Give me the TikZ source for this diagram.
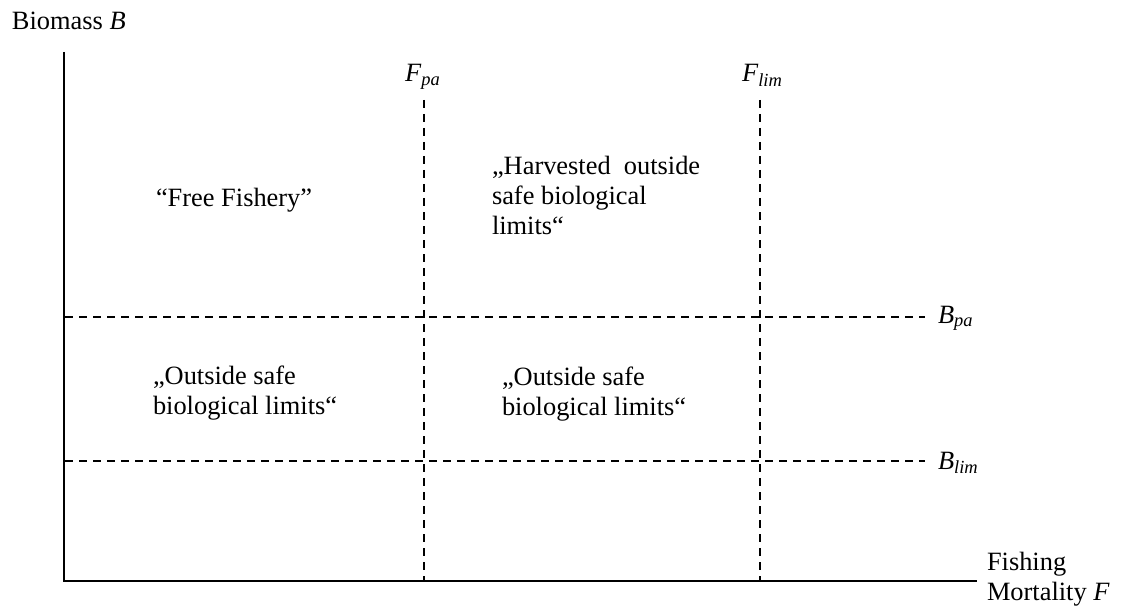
\documentclass[tikz,border=0pt]{standalone}
\usepackage{fontspec}
\setmainfont{Liberation Serif}
\begin{document}
\begin{tikzpicture}[x=1pt,y=-1pt,
  every node/.style={inner sep=0pt,outer sep=0pt,font=\fontsize{26.4}{30}\selectfont},
  axisline/.style={line width=2.4pt},
  refline/.style={line width=2pt,dash pattern=on 8pt off 6pt},
  lbl/.style={anchor=base west},
  % multi-line texts are placed by the baseline of their last line
  region/.style={anchor=base west,align=left}]
\useasboundingbox (0,0) rectangle (1125,607);

% axes
\coordinate (O) at (64,581);
\coordinate (ytop) at (64,52);
\coordinate (xend) at (977,581);
\draw[axisline] (ytop) -- (O) -- (xend);

% reference points: fishing mortality
\coordinate (fpaT) at (424,100);
\coordinate (fpaB) at (424,581);
\coordinate (flimT) at (760,100);
\coordinate (flimB) at (760,581);
\draw[refline] (fpaT) -- (fpaB);
\draw[refline] (flimT) -- (flimB);

% reference points: biomass
\coordinate (bpaL) at (65,317);
\coordinate (bpaR) at (925,317);
\coordinate (blimL) at (65,461);
\coordinate (blimR) at (925,461);
\draw[refline] (bpaL) -- (bpaR);
\draw[refline] (blimL) -- (blimR);

% axis and reference labels
\node[lbl] (ylab) at (12,30) {Biomass \textit{B}};
\node[region] (xlab) at (987,600) {Fishing\\Mortality \textit{F}};
\node[lbl] (fpa) at (405,82) {\textit{F}\textsubscript{\textit{pa}}};
\node[lbl] (flim) at (742,82) {\textit{F}\textsubscript{\textit{lim}}};
\node[lbl] (bpa) at (938,323) {\textit{B}\textsubscript{\textit{pa}}};
\node[lbl] (blim) at (938,469) {\textit{B}\textsubscript{\textit{lim}}};

% region texts
\node[lbl] (free) at (156,207) {“Free Fishery”};
\node[region] (harv) at (492,234) {„Harvested\ \ outside\\safe biological\\limits“};
\node[region] (outl) at (153,414) {„Outside safe\\biological limits“};
\node[region] (outr) at (502,415) {„Outside safe\\biological limits“};
\end{tikzpicture}
\end{document}
